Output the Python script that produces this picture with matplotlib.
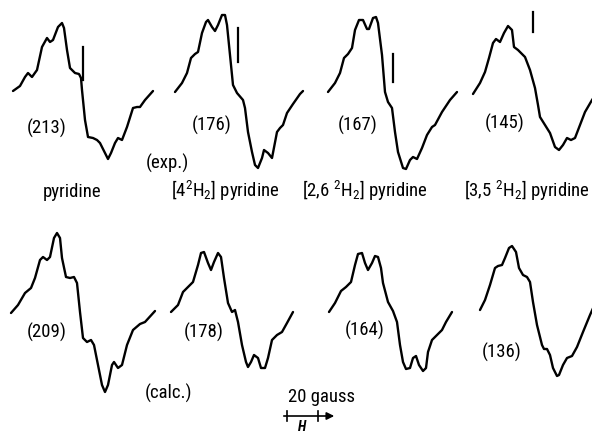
import matplotlib
matplotlib.use('Agg')
import matplotlib.pyplot as plt
from matplotlib import font_manager
import numpy as np

# traced spectra: field offset from the left end and signal above the baseline
# (both in the same arbitrary units; 20 gauss ~ 31 units)
field_py = [0, 7, 12, 15, 19, 24, 29, 34, 37, 40, 45, 49, 51, 54, 57, 62, 66, 68, 69, 72,
            75, 80, 84, 87, 92, 95, 98, 102, 105, 109, 114, 120, 124, 127, 132, 140]
sig_py = [1, 6, 15, 19, 15, 22, 45, 54, 50, 52, 65, 69, 64, 42, 24, 19, 18, 14, 2, -28,
          -45, -46, -48, -51, -61, -67, -61, -51, -46, -48, -35, -16, -15, -15, -8, 1]

field_4d = [0, 7, 12, 16, 20, 23, 27, 31, 33, 37, 40, 43, 47, 50, 52, 55, 58, 62, 68, 70,
            73, 77, 80, 83, 87, 89, 93, 97, 102, 105, 108, 112, 118, 125, 128]
sig_4d = [0, 9, 19, 34, 38, 40, 59, 70, 72, 65, 61, 67, 77, 77, 67, 37, 7, -1, -8, -16,
          -40, -60, -73, -76, -66, -58, -61, -66, -40, -36, -33, -21, -12, -2, 1]

field_26d = [0, 7, 12, 16, 20, 24, 27, 31, 35, 39, 41, 45, 48, 50, 54, 57, 60, 64, 67, 70,
             75, 78, 82, 85, 89, 94, 99, 104, 107, 114, 122, 129]
sig_26d = [0, 9, 19, 34, 38, 44, 62, 72, 72, 63, 63, 74, 75, 69, 37, 0, -10, -16, -40, -60,
           -76, -77, -68, -65, -67, -56, -43, -35, -33, -20, -8, 0]

field_35d = [0, 7, 12, 16, 20, 23, 27, 31, 35, 39, 41, 45, 52, 57, 62, 65, 67, 72, 77, 82,
             86, 90, 94, 98, 102, 107, 112, 119, 121]
sig_35d = [-2, 9, 20, 34, 49, 53, 50, 59, 66, 62, 45, 42, 35, 22, 4, -13, -25, -33, -41, -55,
           -58, -53, -46, -48, -46, -33, -20, -8, -5]

field_py_c = [0, 7, 14, 20, 24, 29, 32, 36, 39, 43, 46, 49, 51, 55, 59, 63, 66, 69, 72, 76,
              80, 83, 87, 91, 94, 97, 101, 103, 107, 111, 116, 122, 129, 134, 144]
sig_py_c = [-1, 7, 19, 24, 34, 52, 55, 52, 55, 74, 79, 74, 54, 35, 34, 35, 29, 0, -26, -30,
            -28, -33, -53, -73, -80, -73, -53, -50, -56, -53, -33, -18, -12, -10, 1]

field_4d_c = [0, 7, 12, 17, 22, 27, 30, 33, 37, 40, 43, 47, 50, 53, 57, 61, 64, 67, 71, 75,
              77, 80, 83, 87, 90, 94, 97, 101, 106, 111, 116, 122]
sig_4d_c = [0, 7, 20, 25, 30, 47, 59, 60, 49, 42, 50, 59, 55, 34, 9, 0, 2, -10, -33, -50,
            -55, -50, -43, -46, -56, -56, -46, -28, -23, -20, -11, 0]

field_26d_c = [0, 6, 12, 17, 22, 26, 29, 33, 36, 39, 43, 46, 49, 52, 54, 59, 64, 68, 71, 74,
               77, 81, 84, 87, 90, 94, 97, 99, 103, 108, 113, 117, 123]
sig_26d_c = [0, 9, 21, 25, 30, 47, 58, 59, 49, 42, 49, 56, 55, 44, 29, 10, 1, -10, -33, -50,
             -57, -56, -46, -44, -53, -59, -56, -40, -28, -23, -18, -10, 0]

field_35d_c = [0, 5, 10, 15, 18, 22, 25, 29, 32, 36, 39, 43, 47, 50, 53, 57, 62, 64, 67, 70,
               73, 77, 79, 83, 87, 92, 97, 103, 110, 114]
sig_35d_c = [2, 12, 27, 44, 46, 47, 54, 64, 66, 60, 44, 37, 35, 30, 10, -13, -33, -37, -37, -43,
             -56, -64, -63, -53, -46, -44, -35, -20, -3, 6]

# reference line marks (field, signal from, signal to) on the experimental traces
marks = [(70, 45, 12), (63, 64, 30), (65, 38, 10), (60, 80, 60)]

splittings_exp = ['(213)', '(176)', '(167)', '(145)']
splittings_calc = ['(209)', '(178)', '(164)', '(136)']
names = ['pyridine', r'[4$^2$H$_2$] pyridine', r'[2,6 $^2$H$_2$] pyridine',
         r'[3,5 $^2$H$_2$] pyridine']

exp_series = [(field_py, sig_py), (field_4d, sig_4d), (field_26d, sig_26d), (field_35d, sig_35d)]
calc_series = [(field_py_c, sig_py_c), (field_4d_c, sig_4d_c), (field_26d_c, sig_26d_c),
               (field_35d_c, sig_35d_c)]

# a narrow face is closer to the scanned lettering, if one is installed
names_ok = {f.name for f in font_manager.fontManager.ttflist}
fam, fs_num, fs_name = 'DejaVu Sans', 10, 10
for cand in ('Roboto Condensed', 'Liberation Sans Narrow', 'Open Sans Condensed'):
    if cand in names_ok:
        fam, fs_num, fs_name = cand, 13.5, 13.5
        break
plt.rcParams['font.family'] = [fam, 'DejaVu Sans']
plt.rcParams['mathtext.fontset'] = 'custom'
plt.rcParams['mathtext.rm'] = fam
plt.rcParams['mathtext.it'] = fam + ':italic'

W, H = 592, 434
fig = plt.figure(figsize=(W / 100, H / 100), dpi=100)
ax = fig.add_axes([0, 0, 1, 1])
ax.set_xlim(0, W)
ax.set_ylim(H, 0)
ax.axis('off')

lw = 1.7
starts_top = [13, 175, 328, 473]
starts_bot = [11, 171, 329, 480]
base_top, base_bot = 92, 312

for (f, s), x0, (mf, m1, m2) in zip(exp_series, starts_top, marks):
    ax.plot(x0 + np.array(f), base_top - np.array(s), color='black', lw=lw,
            solid_joinstyle='round', solid_capstyle='round')
    ax.plot([x0 + mf, x0 + mf], [base_top - m1, base_top - m2], color='black', lw=1.6)

for (f, s), x0 in zip(calc_series, starts_bot):
    ax.plot(x0 + np.array(f), base_bot - np.array(s), color='black', lw=lw,
            solid_joinstyle='round', solid_capstyle='round')

for lab, xy in zip(splittings_exp, [(47, 128), (212, 125), (358, 125), (505, 123)]):
    ax.text(*xy, lab, ha='center', va='center', fontsize=fs_num)
for lab, xy in zip(splittings_calc, [(47, 332), (204, 332), (365, 330), (502, 352)]):
    ax.text(*xy, lab, ha='center', va='center', fontsize=fs_num)
for lab, xy in zip(names, [(72, 192), (225, 191), (365, 191), (527, 191)]):
    ax.text(*xy, lab, ha='center', va='center', fontsize=fs_name)

ax.text(167, 163, '(exp.)', ha='center', va='center', fontsize=fs_num)
ax.text(168, 393, '(calc.)', ha='center', va='center', fontsize=fs_num)

# field scale
ax.text(288, 397, '20 gauss', ha='left', va='center', fontsize=fs_name)
ax.annotate('', xy=(337, 416), xytext=(281, 416),
            arrowprops=dict(arrowstyle='-|>', lw=1.2, color='black', mutation_scale=11))
for xt in (287, 318):
    ax.plot([xt, xt], [411, 421], color='black', lw=1.2)
ax.text(302, 427, 'H', ha='center', va='center', fontsize=10, style='italic', weight='bold')

fig.savefig('out.png', dpi=100)
